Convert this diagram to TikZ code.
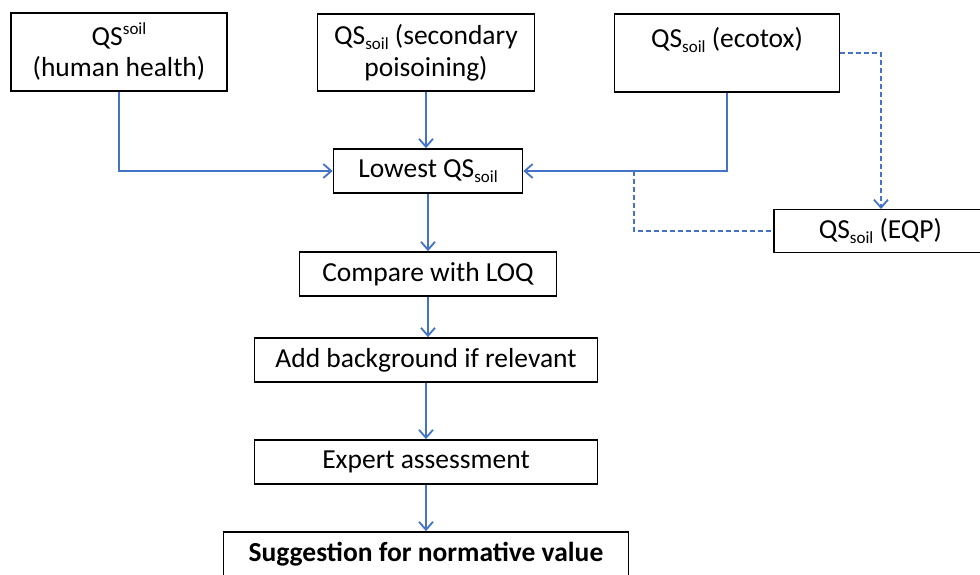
\documentclass[tikz,border=0pt]{standalone}
\usepackage{fontspec}
\setmainfont{Carlito}
\usetikzlibrary{arrows.meta}
\definecolor{flowblue}{HTML}{4472C4}
\newcommand{\lowsoil}{\raisebox{-5pt}{\fontsize{17}{17}\selectfont soil}}
\newcommand{\highsoil}{\raisebox{10pt}{\fontsize{17}{17}\selectfont soil}}
\tikzset{
  box/.style={draw=black, line width=1.7pt, inner sep=0pt, align=center,
    font=\fontsize{27.5}{32}\selectfont},
  arr/.style={draw=flowblue, line width=1.8pt, -{Straight Barb[length=8pt,width=14pt,line width=1.8pt]}},
  dasharr/.style={arr, dash pattern=on 5pt off 3pt},
  dashline/.style={draw=flowblue, line width=1.8pt, dash pattern=on 5pt off 3pt}
}
\begin{document}
\begin{tikzpicture}[x=1pt,y=1pt]
\useasboundingbox (0,0) rectangle (980,-574);
\clip (0,0) rectangle (980,-574);
\node[box, minimum width=216, minimum height=78] (hh) at (119,-52) {QS\highsoil\\(human health)};
\node[box, minimum width=217, minimum height=77] (sp) at (426,-52.5) {QS\lowsoil{} (secondary\\poisoining)};
\node[box, minimum width=225, minimum height=78] (eco) at (727,-53) {QS\lowsoil{} (ecotox)\\\mbox{}};
\node[box, anchor=west, minimum height=43, text width=230, align=flush left] (eqp) at (773,-231) {\hspace*{45pt}\mbox{QS\lowsoil{} (EQP)}};
\node[box, minimum width=189, minimum height=44] (low) at (428,-171) {Lowest QS\lowsoil};
\node[box, minimum width=257, minimum height=44] (loq) at (428,-274) {Compare with LOQ};
\node[box, minimum width=343, minimum height=44] (bg) at (426,-360) {Add background if relevant};
\node[box, minimum width=343, minimum height=44] (exp) at (426,-462) {Expert assessment};
\node[box, minimum width=405, minimum height=44, font=\fontsize{27.5}{32}\selectfont\bfseries] (sug) at (426,-554) {Suggestion for normative value};
\coordinate (eqpin) at (881,-209);
\coordinate (split) at (634,-171);
\draw[arr] (hh.south) |- (low.west);
\draw[arr] (sp.south) -- (sp.south |- low.north);
\draw[arr] (eco.south) |- (low.east);
\draw[dasharr] (eco.east) -| (eqpin);
\draw[dashline] (split) |- (eqp.west);
\draw[arr] (low.south) -- (low.south |- loq.north);
\draw[arr] (loq.south) -- (loq.south |- bg.north);
\draw[arr] (bg.south) -- (bg.south |- exp.north);
\draw[arr] (exp.south) -- (exp.south |- sug.north);
\end{tikzpicture}
\end{document}
